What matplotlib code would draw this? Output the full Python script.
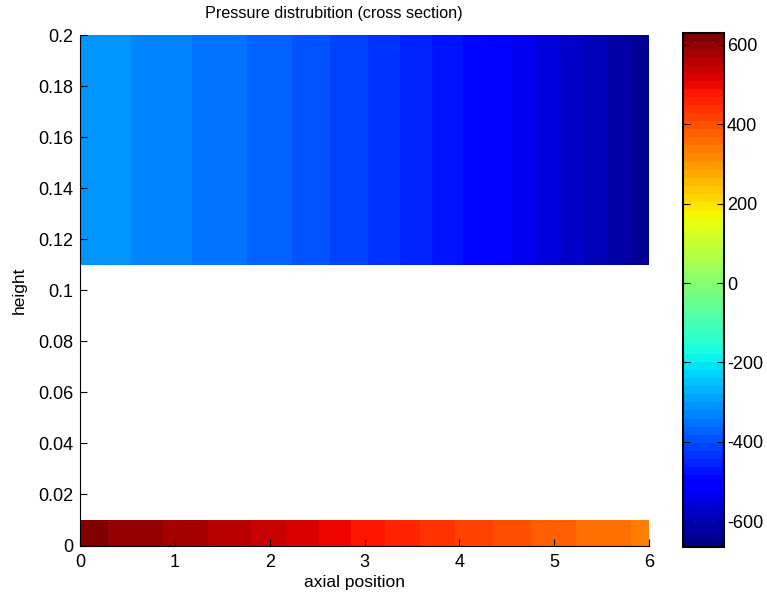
#绘制截面压力分布图
import numpy as np
import matplotlib.pyplot as plt

plt.rcParams['font.family'] = ['Liberation Sans', 'DejaVu Sans']
plt.rcParams['axes.unicode_minus'] = False

# 轴向位置和两个区域的压力
axial_pos = [0, 1, 2, 3, 4, 5, 6]
p_top = [-305, -335, -370, -420, -480, -560, -640]
p_bottom = [620, 585, 540, 480, 425, 375, 340]

# 两个区域的高度范围
h_top = [0.11, 0.2]
h_bottom = [0, 0.01]

# 色标范围
p_min = -665
p_max = 630
levels = np.linspace(p_min, p_max, 129)
cmap = plt.get_cmap('jet', 64)

fig = plt.figure(figsize=(7.67, 6.0), dpi=100)
ax = fig.add_axes([80 / 767, 1 - 545.5 / 600, 569 / 767, 510.5 / 600])
cax = fig.add_axes([683 / 767, 1 - 547 / 600, 41 / 767, 514 / 600])

X, Y = np.meshgrid(axial_pos, h_top)
Z = np.tile(p_top, (len(h_top), 1))
ax.contourf(X, Y, Z, levels=levels, cmap=cmap, vmin=p_min, vmax=p_max)

X, Y = np.meshgrid(axial_pos, h_bottom)
Z = np.tile(p_bottom, (len(h_bottom), 1))
ax.contourf(X, Y, Z, levels=levels, cmap=cmap, vmin=p_min, vmax=p_max)

ax.set_xlim(0, 6)
ax.set_ylim(0, 0.2)
ax.set_xticks(range(7))
ax.set_yticks(np.arange(0, 0.201, 0.02))
ax.set_yticklabels(['0', '0.02', '0.04', '0.06', '0.08', '0.1', '0.12',
                    '0.14', '0.16', '0.18', '0.2'])
ax.spines['top'].set_visible(False)
ax.spines['right'].set_visible(False)
ax.tick_params(direction='in', labelsize=13, length=5)
ax.tick_params(axis='x', pad=6)
ax.tick_params(axis='y', pad=5)
ax.set_xlabel('axial position', fontsize=12.5, labelpad=3, x=0.483)
ax.set_ylabel('height', fontsize=12.5, labelpad=8)
ax.set_title('Pressure distrubition (cross section)', fontsize=11.6, pad=12.5, x=0.446)

sm = plt.cm.ScalarMappable(cmap=cmap, norm=plt.Normalize(p_min, p_max))
cb = fig.colorbar(sm, cax=cax)
cb.set_ticks([-600, -400, -200, 0, 200, 400, 600])
cb.outline.set_linewidth(1.5)
cax.tick_params(direction='in', labelsize=13, length=5, left=True, right=True, pad=2)

fig.savefig('out.png', dpi=100)
